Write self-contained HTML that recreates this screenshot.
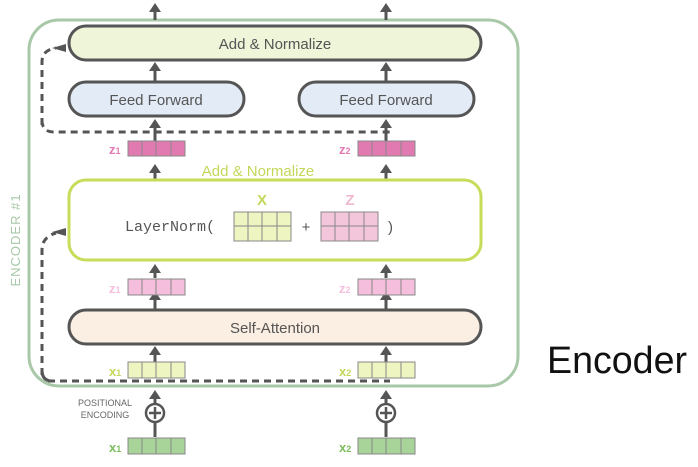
<!DOCTYPE html>
<html><head><style>
body{margin:0;background:#fff;width:698px;height:462px;overflow:hidden;font-family:"Liberation Sans",sans-serif}
</style></head><body>
<svg width="698" height="462" xmlns="http://www.w3.org/2000/svg" font-family="Liberation Sans, sans-serif">
<rect x="29" y="20" width="489" height="366" rx="30" fill="none" stroke="#a8c8a8" stroke-width="3"/>
<text x="20" y="240" font-size="13" fill="#a8c8a8" text-anchor="middle" transform="rotate(-90 20 240)" letter-spacing="1">ENCODER #1</text>
<path d="M42,375 L42,250 Q42,237 56,233" fill="none" stroke="#555" stroke-width="3" stroke-dasharray="7,5"/>
<path d="M48,381 L390,381" fill="none" stroke="#555" stroke-width="3" stroke-dasharray="7,5"/>
<path d="M42,370 Q42,381 52,381" fill="none" stroke="#555" stroke-width="3"/>
<path d="M42,125 L42,62 Q42,50 56,48" fill="none" stroke="#555" stroke-width="3" stroke-dasharray="7,5"/>
<path d="M42,120 Q42,132 54,132 L390,132" fill="none" stroke="#555" stroke-width="3" stroke-dasharray="7,5"/>
<path d="M52,48L66,44L66,52z M52,232L66,228L66,236z" fill="#555"/>
<g stroke="#555" stroke-width="3">
<line x1="155" y1="20" x2="155" y2="9"/><line x1="386" y1="20" x2="386" y2="9"/>
<line x1="155" y1="82" x2="155" y2="68"/><line x1="386" y1="82" x2="386" y2="68"/>
<line x1="155" y1="141" x2="155" y2="125"/><line x1="386" y1="141" x2="386" y2="125"/>
<line x1="155" y1="179" x2="155" y2="170"/><line x1="386" y1="179" x2="386" y2="170"/>
<line x1="155" y1="278" x2="155" y2="270"/><line x1="386" y1="278" x2="386" y2="270"/>
<line x1="155" y1="310" x2="155" y2="297"/><line x1="386" y1="310" x2="386" y2="297"/>
<line x1="155" y1="362" x2="155" y2="352"/><line x1="386" y1="362" x2="386" y2="352"/>
<line x1="155" y1="437" x2="155" y2="396"/><line x1="386" y1="437" x2="386" y2="396"/>
</g>
<g fill="#555">
<path d="M149,12L155,3L161,12z M380,12L386,3L392,12z"/>
<path d="M149,71L155,62L161,71z M380,71L386,62L392,71z"/>
<path d="M149,128L155,119L161,128z M380,128L386,119L392,128z"/>
<path d="M149,173L155,164L161,173z M380,173L386,164L392,173z"/>
<path d="M149,273L155,264L161,273z M380,273L386,264L392,273z"/>
<path d="M149,300L155,291L161,300z M380,300L386,291L392,300z"/>
<path d="M149,355L155,346L161,355z M380,355L386,346L392,355z"/>
<path d="M149,399L155,390L161,399z M380,399L386,390L392,399z"/>
</g>
<rect x="69" y="26" width="412" height="34" rx="17" fill="#eef5d9" stroke="#555" stroke-width="3"/>
<text x="275" y="49" font-size="15" fill="#555" text-anchor="middle">Add &amp; Normalize</text>
<rect x="69" y="82" width="175" height="34" rx="17" fill="#e3ebf6" stroke="#555" stroke-width="3"/>
<text x="156" y="105" font-size="15" fill="#555" text-anchor="middle">Feed Forward</text>
<rect x="299" y="82" width="175" height="34" rx="17" fill="#e3ebf6" stroke="#555" stroke-width="3"/>
<text x="386" y="105" font-size="15" fill="#555" text-anchor="middle">Feed Forward</text>
<text x="258" y="176" font-size="15" fill="#c2d85a" text-anchor="middle">Add &amp; Normalize</text>
<rect x="69" y="180" width="412" height="80" rx="17" fill="#fff" stroke="#c6dc5a" stroke-width="3"/>
<text x="125" y="231" font-size="15" fill="#555" font-family="Liberation Mono, monospace">LayerNorm(</text>
<text x="262" y="205" font-size="15" fill="#c2d85a" text-anchor="middle" font-weight="bold">X</text>
<text x="350" y="205" font-size="15" fill="#f0b8d0" text-anchor="middle" font-weight="bold">Z</text>
<text x="306" y="232" font-size="15" fill="#555" text-anchor="middle">+</text>
<text x="388" y="232" font-size="15" fill="#555">)</text>
<g stroke="#888" stroke-width="1">
<rect x="234" y="212" width="57" height="29" fill="#eef5c0"/>
<path d="M248,212v29M262,212v29M277,212v29M234,226h57"/>
<rect x="321" y="212" width="57" height="29" fill="#f4c6dc"/>
<path d="M335,212v29M349,212v29M364,212v29M321,226h57"/>
</g>
<rect x="69" y="310" width="412" height="34" rx="17" fill="#fbeee3" stroke="#555" stroke-width="3"/>
<text x="275" y="333" font-size="15" fill="#555" text-anchor="middle">Self-Attention</text>
<g stroke="#888" stroke-width="1">
<rect x="128" y="141" width="57" height="15" fill="#e27ab2"/><path d="M142,141v15M156,141v15M171,141v15"/>
<rect x="358" y="141" width="57" height="15" fill="#e27ab2"/><path d="M372,141v15M386,141v15M401,141v15"/>
<rect x="128" y="279" width="57" height="16" fill="#f5bedc"/><path d="M142,279v16M156,279v16M171,279v16"/>
<rect x="358" y="279" width="57" height="16" fill="#f5bedc"/><path d="M372,279v16M386,279v16M401,279v16"/>
<rect x="128" y="362" width="57" height="16" fill="#eef5c0"/><path d="M142,362v16M156,362v16M171,362v16"/>
<rect x="358" y="362" width="57" height="16" fill="#eef5c0"/><path d="M372,362v16M386,362v16M401,362v16"/>
<rect x="128" y="438" width="57" height="16" fill="#a8d49a"/><path d="M142,438v16M156,438v16M171,438v16"/>
<rect x="358" y="438" width="57" height="16" fill="#a8d49a"/><path d="M372,438v16M386,438v16M401,438v16"/>
</g>
<g font-size="13" font-weight="bold">
<text x="109" y="154" fill="#e27ab2">z<tspan font-size="9">1</tspan></text>
<text x="339" y="154" fill="#e27ab2">z<tspan font-size="9">2</tspan></text>
<text x="109" y="293" fill="#f5bedc">z<tspan font-size="9">1</tspan></text>
<text x="339" y="293" fill="#f5bedc">z<tspan font-size="9">2</tspan></text>
<text x="109" y="376" fill="#c2d85a">x<tspan font-size="9">1</tspan></text>
<text x="339" y="376" fill="#c2d85a">x<tspan font-size="9">2</tspan></text>
<text x="109" y="452" fill="#7cbc5c">x<tspan font-size="9">1</tspan></text>
<text x="339" y="452" fill="#7cbc5c">x<tspan font-size="9">2</tspan></text>
</g>
<text x="105" y="406" font-size="9" fill="#666" text-anchor="middle">POSITIONAL</text>
<text x="105" y="418" font-size="9" fill="#666" text-anchor="middle">ENCODING</text>
<g stroke="#555" stroke-width="2.5" fill="#fff">
<circle cx="155" cy="413" r="9"/><path d="M149,413h12M155,407v12"/>
<circle cx="386" cy="413" r="9"/><path d="M380,413h12M386,407v12"/>
</g>
<text x="547" y="373" font-size="38" fill="#111" textLength="140" lengthAdjust="spacingAndGlyphs">Encoder</text>
</svg>
</body></html>
